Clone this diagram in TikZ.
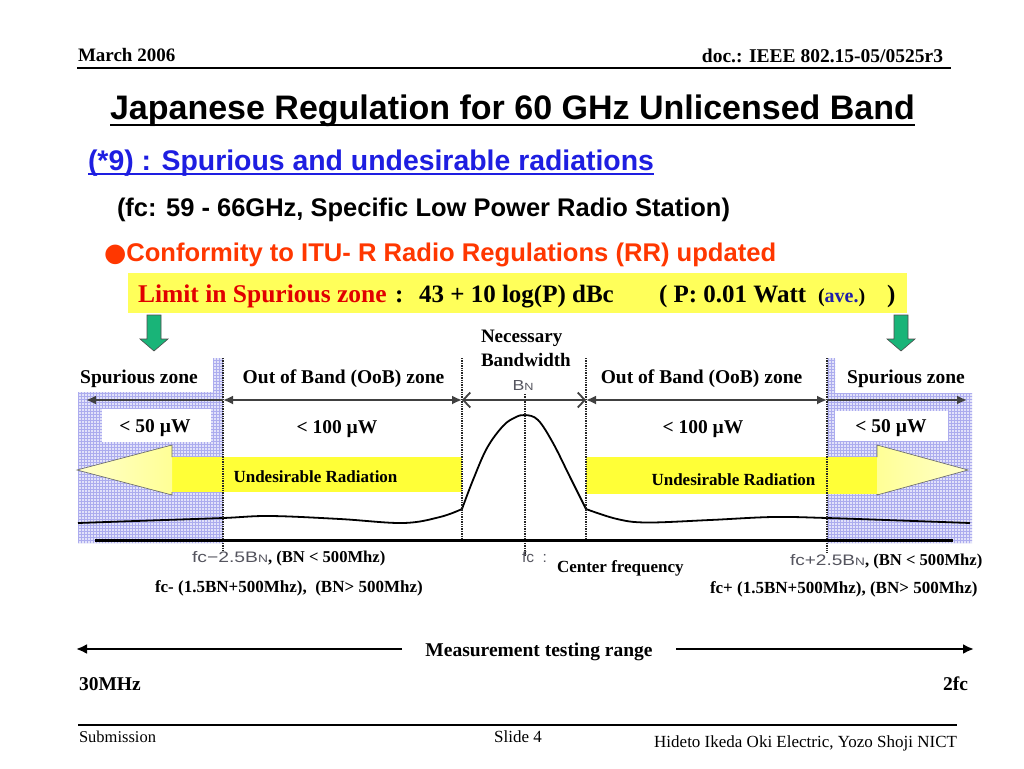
\documentclass[tikz,border=0pt]{standalone}
\usepackage{fontspec}
\setmainfont{Liberation Serif}
\setsansfont{Liberation Sans}
\newfontfamily\dejavu{DejaVu Sans}
\usetikzlibrary{arrows.meta,patterns}
\newcommand\fsz[1]{\fontsize{#1}{#1}\selectfont}
\definecolor{hatchbg}{RGB}{226,226,250}
\definecolor{hatchln}{RGB}{172,172,238}
\definecolor{ybox}{RGB}{255,255,90}
\definecolor{ybody}{RGB}{255,255,55}
\definecolor{yhead}{RGB}{255,255,150}
\definecolor{gfill}{RGB}{25,180,120}
\definecolor{tblue}{RGB}{30,30,225}
\definecolor{tred}{RGB}{255,55,0}
\definecolor{lred}{RGB}{225,0,0}
\definecolor{ablue}{RGB}{30,30,170}
\definecolor{gtxt}{RGB}{85,85,95}
\begin{document}
\begin{tikzpicture}[x=1pt,y=-1pt,
  txt/.style={inner sep=0pt, outer sep=0pt},
  serb/.style={txt, font=\fsz{#1}\bfseries},
  serr/.style={txt, font=\fsz{#1}},
  sanb/.style={txt, font=\sffamily\bfseries\fsz{#1}},
  glbl/.style={txt, font=\sffamily\fsz{14}, text=gtxt},
  dotv/.style={line width=1.7pt, dash pattern=on 1.3pt off 1.1pt, black!85},
  harr/.style={line width=1.8pt, black!75},
  hatch/.style={fill=hatchbg, postaction={pattern=grid, pattern color=hatchln}},
  spec/.style={line width=1.8pt, black, line join=round},
  garrow/.style={fill=gfill, draw=black!70, line width=0.6pt},
  ltip/.style={-{Latex[length=10pt,width=9pt]}},
  lltip/.style={{Latex[length=10pt,width=9pt]}-{Latex[length=10pt,width=9pt]}},
]
\useasboundingbox (0,0) rectangle (1024,768);
\fill[white] (0,0) rectangle (1024,768);

% ---------- header ----------
\node[serb=19, anchor=base west] (date) at (78,61) {March 2006};
\node[serb=19.5, anchor=base east] (doc) at (943,63) {doc.: IEEE 802.15-05/0525r3};
\coordinate (hl1) at (77,68); \coordinate (hl2) at (951,68);
\draw[line width=1.4pt] (hl1) -- (hl2);

% ---------- titles ----------
\node[sanb=34, anchor=base] (title) at (512.5,119) {Japanese Regulation for 60 GHz Unlicensed Band};
\draw[line width=2pt] ([yshift=-6pt]title.base west) -- ([yshift=-6pt]title.base east);
\node[sanb=28.4, text=tblue, anchor=base west] (sub9) at (88,170) {(*9) : Spurious and undesirable radiations};
\draw[line width=1.5pt, tblue] ([yshift=-4pt]sub9.base west) -- ([yshift=-4pt]sub9.base east);
\node[sanb=25.5, anchor=base west] (fcl) at (117,216) {(fc: 59 - 66GHz, Specific Low Power Radio Station)};
\node[sanb=25.6, text=tred, anchor=base west] (conf) at (104,261) {{\dejavu ●}Conformity to ITU- R Radio Regulations (RR) updated};

% ---------- yellow limit box ----------
\fill[ybox] (128,273) rectangle (907,313);
\node[serb=25.5, text=lred, anchor=base west] (lim) at (138,302) {Limit in Spurious zone};
\node[serb=25, anchor=base west] (colon) at (395,302) {:};
\node[serb=25, anchor=base west] (form) at (419,302) {43 + 10 log(P) dBc};
\node[serb=25, anchor=base west] (pw) at (659,302) {( P: 0.01 Watt};
\node[serb=20, anchor=base west] (ave) at (818,302) {(\textcolor{ablue}{ave.})};
\node[serb=25, anchor=base west] (rp) at (887,302) {)};

% ---------- green arrows ----------
\path[garrow] (147,315) -- (161,315) -- (161,339) -- (168,339) -- (154,351) -- (140,339) -- (147,339) -- cycle;
\path[garrow] (894,315) -- (908,315) -- (908,339) -- (915,339) -- (901,351) -- (887,339) -- (894,339) -- cycle;

% ---------- hatched spurious zones ----------
\path[hatch] (78,392) -- (213,392) -- (213,358) -- (223,358) -- (223,543) -- (78,543) -- cycle;
\fill[white] (102,409) rectangle (211,442);
\path[hatch] (827,358) -- (835,358) -- (835,393) -- (972,393) -- (972,543) -- (827,543) -- cycle;
\fill[white] (835,411) rectangle (948,441);

% ---------- yellow radiation arrows ----------
\fill[ybody] (172,457) rectangle (462,492);
\shade[left color=yhead!50!white, right color=yhead] (172,445) -- (77,470) -- (172,495) -- cycle;
\draw[black!60, line width=0.6pt] (172,457) -- (172,445) -- (77,470) -- (172,495) -- (172,492);
\fill[ybody] (586,457) rectangle (877,494);
\shade[left color=yhead, right color=yhead!50!white] (877,445) -- (968,470) -- (877,495) -- cycle;
\draw[black!60, line width=0.6pt] (877,457) -- (877,445) -- (968,470) -- (877,495) -- (877,494);
\node[serb=17, anchor=base] (ur1) at (315.5,482) {Undesirable Radiation};
\node[serb=17, anchor=base] (ur2) at (733.5,485) {Undesirable Radiation};

% ---------- spectrum ----------
\draw[spec] plot[smooth, tension=0.6] coordinates {(78,523) (150,520.5) (223,518) (270,516) (340,519) (403,523) (440,517) (462,509)};
\draw[spec] plot[smooth, tension=0.6] coordinates {(462,509) (473,480) (487,448) (503,426) (515,417.5) (525,415) (538,420) (553,443) (570,477) (586,509)};
\draw[spec] plot[smooth, tension=0.6] coordinates {(586,509) (617,519) (647,522.5) (710,520) (773,517) (827,518) (900,520.5) (970,523)};

% ---------- dotted boundaries ----------
\draw[dotv] (223,358) -- (223,552);
\draw[dotv] (462,358) -- (462,540);
\draw[dotv] (525,394) -- (525,556);
\draw[dotv] (586,358) -- (586,540);
\draw[dotv] (827,358) -- (827,553);

% ---------- axis ----------
\coordinate (ax1) at (95,540.5); \coordinate (ax2) at (953,540.5);
\draw[line width=2.8pt] (ax1) -- (ax2);

% ---------- zone arrows ----------
\coordinate (sL) at (86,400); \coordinate (d1) at (223,400); \coordinate (d2) at (462,400);
\coordinate (d4) at (586,400); \coordinate (d5) at (827,400); \coordinate (sR) at (967,400);
\draw[harr, ltip] (d1) -- (sL);
\draw[harr, lltip] (d1) -- (d2);
\draw[harr, {Straight Barb[length=7pt,width=15pt]}-{Straight Barb[length=7pt,width=15pt]}] (d2) -- (d4);
\draw[harr, lltip] (d4) -- (d5);
\draw[harr, ltip] (d5) -- (sR);

% ---------- zone labels ----------
\node[serb=19.5, anchor=base] (szL) at (139,383) {Spurious zone};
\node[serb=19.5, anchor=base] (oobL) at (343.5,383) {Out of Band (OoB) zone};
\node[serb=19.5, anchor=base] (oobR) at (701.5,383) {Out of Band (OoB) zone};
\node[serb=19.5, anchor=base] (szR) at (906,383) {Spurious zone};
\node[serb=19, anchor=base west] (nec) at (481,342) {Necessary};
\node[serb=19, anchor=base west] (bw) at (481,366) {Bandwidth};
\node[glbl, anchor=base] (bn) at (523,390) {\resizebox{21pt}{10pt}{B{\fsz{10}N}}};
\node[serb=19.5, anchor=base] (p50L) at (155,432) {< 50 µW};
\node[serb=19.5, anchor=base] (p100L) at (337,433) {< 100 µW};
\node[serb=19.5, anchor=base] (p100R) at (703,433) {< 100 µW};
\node[serb=19.5, anchor=base] (p50R) at (891,432) {< 50 µW};

% ---------- frequency labels ----------
\node[glbl, anchor=base west] (fcm) at (192,562) {\resizebox{76pt}{11pt}{fc−2.5B{\fsz{10}N}}};
\node[serb=16.6, anchor=base west] (fcmb) at (fcm.base east) {, (BN < 500Mhz)};
\node[serb=17, anchor=base west] (fcm2) at (155,592) {fc- (1.5BN+500Mhz),\ \ (BN> 500Mhz)};
\node[glbl, anchor=base west] (fcc) at (522,562) {\resizebox{25pt}{11pt}{fc\ \ :}};
\node[serb=17, anchor=base west] (cf) at (557,572) {Center frequency};
\node[glbl, anchor=base west] (fcp) at (790,565) {\resizebox{75pt}{11pt}{fc+2.5B{\fsz{10}N}}};
\node[serb=16.6, anchor=base west] (fcpb) at (fcp.base east) {, (BN < 500Mhz)};
\node[serb=17, anchor=base west] (fcp2) at (710,593) {fc+ (1.5BN+500Mhz), (BN> 500Mhz)};

% ---------- measurement range ----------
\node[serb=19.5, anchor=base] (mtr) at (539,656) {Measurement testing range};
\coordinate (mL) at (76,649); \coordinate (mLi) at (402,649);
\coordinate (mRi) at (676,649); \coordinate (mR) at (974,649);
\draw[line width=2.6pt, -{Latex[length=11pt,width=10pt]}] (mLi) -- (mL);
\draw[line width=2.6pt, -{Latex[length=11pt,width=10pt]}] (mRi) -- (mR);
\node[serb=19.5, anchor=base west] (f30) at (79,690) {30MHz};
\node[serb=19.5, anchor=base east] (f2) at (968,690) {2fc};

% ---------- footer ----------
\coordinate (fl1) at (78,725); \coordinate (fl2) at (957,725);
\draw[line width=1.3pt] (fl1) -- (fl2);
\node[serr=16.5, anchor=base west] (subm) at (79,742) {Submission};
\node[serr=17, anchor=base] (slide) at (518,742) {Slide 4};
\node[serr=17, anchor=base east] (auth) at (957,747) {Hideto Ikeda Oki Electric, Yozo Shoji NICT};
\end{tikzpicture}
\end{document}
